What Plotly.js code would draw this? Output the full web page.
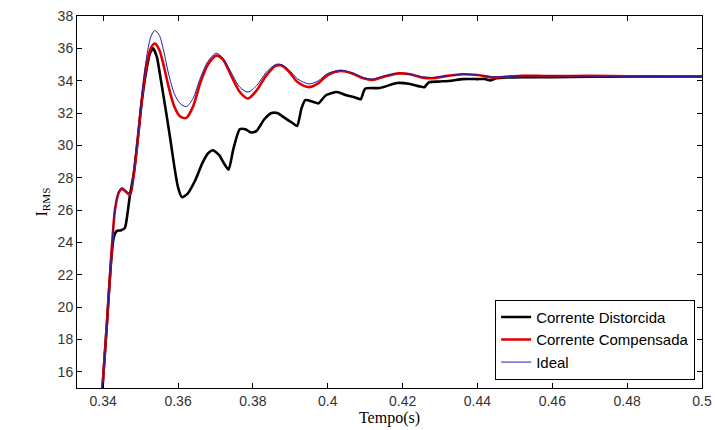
<!DOCTYPE html>
<html><head><meta charset="utf-8">
<script src="https://cdn.plot.ly/plotly-3.0.1.min.js"></script>
<style>html,body{margin:0;padding:0;background:#fff}#chart{width:715px;height:430px}</style>
</head><body><div id="chart"></div>
<script>
const idealX = [0.3398,0.3410,0.3420,0.3432,0.3442,0.3450,0.3462,0.3472,0.3482,0.3492,0.3503,0.3515,0.3527,0.3538,0.3550,0.3562,0.3575,0.3590,0.3605,0.3622,0.3640,0.3660,0.3680,0.3702,0.3720,0.3740,0.3765,0.3787,0.3810,0.3835,0.3860,0.3875,0.3895,0.3920,0.3950,0.3975,0.4000,0.4035,0.4065,0.4095,0.4120,0.4150,0.4190,0.4220,0.4250,0.4280,0.4320,0.4360,0.4400,0.4440,0.4480,0.4520,0.4560,0.4600,0.4700,0.4800,0.5000];
const idealY = [15,19,22.7,26.2,27.2,27.4,27.2,27.0,28.5,30.5,33.0,35.3,36.7,37.1,36.8,35.8,34.4,33.2,32.6,32.4,32.9,34.2,35.2,35.7,35.4,34.6,33.6,33.3,33.7,34.5,35.0,35.0,34.7,34.1,33.8,34.0,34.45,34.65,34.5,34.2,34.1,34.3,34.45,34.4,34.25,34.2,34.3,34.4,34.35,34.25,34.25,34.3,34.3,34.3,34.28,34.27,34.25];

const compX = idealX;
const compY = [15,19,22.6,26.1,27.1,27.3,27.1,26.95,28.3,30.3,32.8,34.9,36.0,36.3,35.9,34.9,33.6,32.4,31.8,31.7,32.4,33.9,35.0,35.55,35.3,34.4,33.3,32.9,33.4,34.3,34.9,34.95,34.6,33.9,33.6,33.85,34.35,34.6,34.45,34.15,34.05,34.25,34.45,34.4,34.2,34.15,34.3,34.4,34.35,34.2,34.25,34.3,34.3,34.28,34.3,34.27,34.25];

const distX = [0.3398,0.3410,0.3420,0.3428,0.3436,0.3448,0.3458,0.3465,0.3472,0.3482,0.3492,0.3503,0.3515,0.3525,0.3533,0.3543,0.3553,0.3565,0.3578,0.3590,0.3600,0.3610,0.3625,0.3645,0.3665,0.3680,0.3693,0.3710,0.3725,0.3735,0.3748,0.3765,0.3780,0.3795,0.3810,0.3830,0.3850,0.3865,0.3885,0.3905,0.3918,0.3930,0.3940,0.3960,0.3975,0.3995,0.4024,0.4050,0.4075,0.4088,0.4100,0.4140,0.4185,0.4220,0.4245,0.4258,0.4270,0.4300,0.4330,0.4360,0.4400,0.4420,0.4435,0.4450,0.4480,0.4520,0.4600,0.4700,0.4800,0.5000];
const distY = [15,19,22.5,24.3,24.7,24.75,24.9,25.8,27.0,28.3,30.3,32.7,34.6,35.7,36.0,35.5,34.2,32.5,30.6,28.7,27.4,26.8,27.0,27.8,28.9,29.5,29.7,29.4,28.8,28.5,29.8,31.0,31.0,30.8,30.9,31.6,32.0,32.0,31.7,31.4,31.2,32.3,32.8,32.7,32.6,33.1,33.3,33.1,32.95,32.85,33.5,33.55,33.86,33.8,33.65,33.6,33.9,33.95,34.0,34.1,34.1,34.1,34.02,34.15,34.2,34.22,34.22,34.25,34.25,34.25];

const names = ['Corrente Distorcida','Corrente Compensada','Ideal'];
const yTicks = [16,18,20,22,24,26,28,30,32,34,36,38];

const traces = [
  {x: distX, y: distY, name: names[0], mode: 'lines', line: {color: '#000000', width: 2.6, shape: 'spline', smoothing: 0.6}},
  {x: compX, y: compY, name: names[1], mode: 'lines', line: {color: '#e00000', width: 2.6, shape: 'spline', smoothing: 0.8}},
  {x: idealX, y: idealY, name: names[2], mode: 'lines', line: {color: '#1c1ca8', width: 1, shape: 'spline', smoothing: 0.8}}
];

const axisCommon = {
  showgrid: false, zeroline: false, showline: true, linecolor: '#000', linewidth: 1,
  mirror: 'ticks', ticks: 'inside', ticklen: 5, tickcolor: '#000', tickwidth: 1,
  tickfont: {family: 'Liberation Sans, Arial, sans-serif', size: 14, color: '#333'}
};

const layout = {
  width: 715, height: 430,
  margin: {l: 77, r: 13, t: 16, b: 42},
  paper_bgcolor: '#fff', plot_bgcolor: '#fff',
  showlegend: true,
  legend: {x: 0.989, y: 0.022, xanchor: 'right', yanchor: 'bottom', bgcolor: '#fff',
    bordercolor: '#000', borderwidth: 1, tracegroupgap: 0,
    font: {family: 'Liberation Sans, Arial, sans-serif', size: 15, color: '#000'}},
  xaxis: Object.assign({}, axisCommon, {range: [0.333, 0.5], tick0: 0.34, dtick: 0.02,
    title: {text: 'Tempo(s)', standoff: 4, font: {family: 'Liberation Serif, Times New Roman, serif', size: 16, color: '#000'}}}),
  yaxis: Object.assign({}, axisCommon, {range: [15, 38], tickvals: yTicks,
    title: {text: 'I<sub>RMS</sub>', standoff: 6, font: {family: 'Liberation Serif, Times New Roman, serif', size: 16, color: '#000'}}})
};

Plotly.newPlot('chart', traces, layout, {displayModeBar: false, staticPlot: true});
</script></body></html>
